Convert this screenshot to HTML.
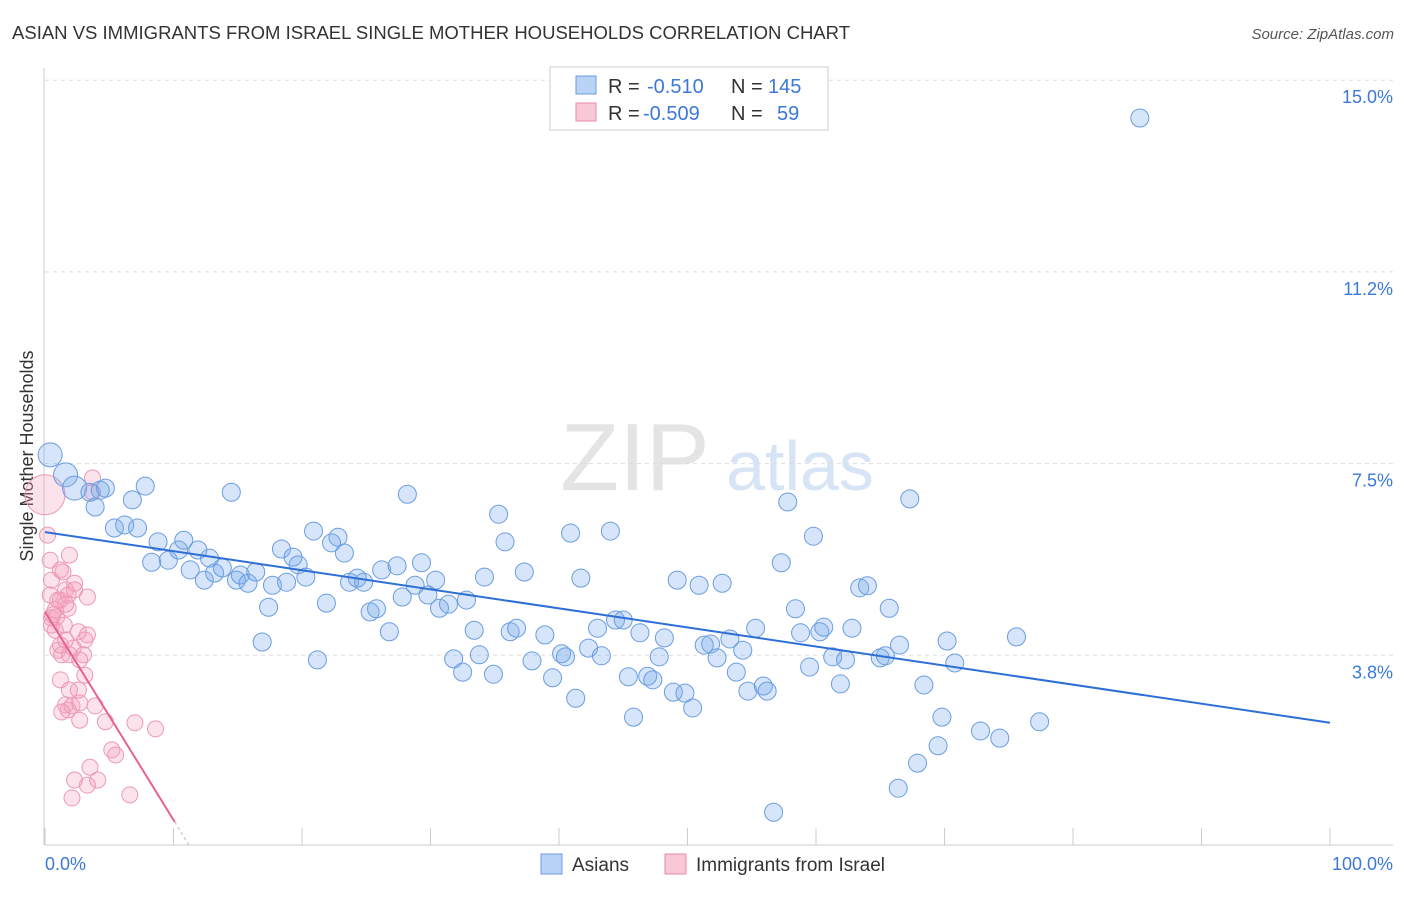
<!DOCTYPE html>
<html><head><meta charset="utf-8"><style>
body{margin:0;background:#fff;font-family:"Liberation Sans",sans-serif;}
svg text{font-family:"Liberation Sans",sans-serif;}
</style></head><body>
<svg id="chart" width="1406" height="892">
<text x="12" y="39" font-size="18" fill="#333" textLength="838" lengthAdjust="spacingAndGlyphs">ASIAN VS IMMIGRANTS FROM ISRAEL SINGLE MOTHER HOUSEHOLDS CORRELATION CHART</text>
<text x="1394" y="39" font-size="15" fill="#555" font-style="italic" text-anchor="end">Source: ZipAtlas.com</text>
<text x="33" y="456" font-size="18" fill="#333" transform="rotate(-90 33 456)" text-anchor="middle">Single Mother Households</text>
<text x="635" y="490" font-size="96" fill="#e4e4e4" font-family="Liberation Serif" text-anchor="middle">ZIP</text>
<text x="800" y="490" font-size="70" fill="#d6e4f5" text-anchor="middle">atlas</text>
<g id="grid"></g><g id="axes"></g><g id="pink"></g><g id="blue"></g><g id="lines"></g>
<g>
<rect x="550" y="67" width="278" height="63" fill="#fff" stroke="#ccc"/>
<rect x="576" y="76" width="20" height="18" fill="#b8d3f5" stroke="#6a9de0"/>
<rect x="576" y="103" width="20" height="18" fill="#f9c8d6" stroke="#e88aaa"/>
<text x="608" y="93" font-size="20" fill="#333">R =</text>
<text x="647" y="93" font-size="20" fill="#3c78d8">-0.510</text>
<text x="731" y="93" font-size="20" fill="#333">N =</text>
<text x="768" y="93" font-size="20" fill="#3c78d8">145</text>
<text x="608" y="120" font-size="20" fill="#333">R =</text>
<text x="643" y="120" font-size="20" fill="#3c78d8">-0.509</text>
<text x="731" y="120" font-size="20" fill="#333">N =</text>
<text x="777" y="120" font-size="20" fill="#3c78d8">59</text>
</g>
<g>
<rect x="541" y="854" width="21" height="20" fill="#b8d3f5" stroke="#6a9de0"/>
<text x="572" y="871" font-size="19" fill="#333">Asians</text>
<rect x="665" y="854" width="21" height="20" fill="#f9c8d6" stroke="#e88aaa"/>
<text x="696" y="871" font-size="19" fill="#333">Immigrants from Israel</text>
</g>
</svg>
<script>
const yTicks=[3.75,7.5,11.25,15];
const yTickLabels=["3.8%","7.5%","11.2%","15.0%"];
const xTickLabels=["0.0%","100.0%"];
const blueX=[0.4,1.6,2.3,3.5,4.7,3.9,5.4,6.2,7.2,7.8,6.8,8.8,8.3,9.6,10.4,10.8,11.3,11.9,12.4,12.8,13.2,13.8,14.5,14.9,15.2,15.8,16.4,16.9,17.4,17.7,18.4,18.8,19.3,19.7,20.3,20.9,21.2,21.9,22.3,22.8,23.3,23.7,24.3,24.8,25.3,25.8,26.2,26.8,27.4,27.8,28.2,28.8,29.3,29.8,30.4,30.7,31.4,31.8,32.5,32.8,33.4,33.8,34.2,34.9,35.3,35.8,36.2,36.7,37.3,37.9,38.9,39.5,40.2,40.5,40.9,41.3,41.7,42.3,43.0,43.3,44.0,44.4,45.0,45.4,45.8,46.3,46.9,47.3,47.8,48.2,48.9,49.2,49.8,50.4,50.9,51.3,51.8,52.3,52.7,53.3,53.8,54.3,54.7,55.3,55.9,56.2,56.7,57.3,57.8,58.4,58.8,59.5,59.8,60.3,60.6,61.3,61.9,62.3,62.8,63.4,64.0,65.0,65.4,65.7,66.5,67.3,67.9,68.4,69.5,69.8,70.2,70.8,72.8,74.3,75.6,77.4,66.4,85.2,4.3];
const blueY=[7.67,7.28,7.02,6.94,7.02,6.65,6.24,6.30,6.24,7.06,6.79,5.97,5.57,5.61,5.81,6.00,5.42,5.81,5.22,5.65,5.36,5.46,6.94,5.22,5.32,5.16,5.38,4.01,4.69,5.12,5.83,5.18,5.67,5.52,5.28,6.18,3.66,4.77,5.95,6.06,5.75,5.18,5.26,5.18,4.60,4.66,5.42,4.21,5.50,4.89,6.90,5.12,5.56,4.93,5.22,4.67,4.75,3.68,3.42,4.83,4.24,3.76,5.28,3.38,6.51,5.97,4.21,4.28,5.38,3.64,4.15,3.31,3.78,3.72,6.14,2.91,5.26,3.89,4.28,3.74,6.18,4.44,4.44,3.33,2.54,4.19,3.34,3.27,3.72,4.09,3.03,5.22,3.01,2.72,5.12,3.95,3.97,3.70,5.16,4.07,3.42,3.85,3.05,4.28,3.15,3.05,0.68,5.56,6.75,4.66,4.19,3.52,6.08,4.21,4.30,3.72,3.19,3.66,4.28,5.07,5.11,3.70,3.74,4.67,3.95,6.81,1.64,3.17,1.98,2.54,4.03,3.60,2.27,2.13,4.11,2.45,1.15,14.26,6.98];
const pinkX=[0,0.2,0.4,0.5,0.4,0.8,0.5,0.9,1.2,1.6,1.0,1.3,1.2,1.8,1.9,1.4,2.3,3.3,1.8,2.6,3.3,3.1,2.2,1.9,3.0,2.6,3.1,1.9,1.6,1.8,2.1,2.7,3.9,2.7,4.7,5.2,5.5,7.0,8.6,2.3,3.5,3.3,4.1,2.1,6.6,3.7,3.7,1.2,0.8,1.5,2.3,0.5,1.0,1.6,2.7,1.3,1.6,0.6,1.2];
const pinkY=[6.89,6.10,5.61,5.22,4.93,4.64,4.48,4.50,4.83,5.03,3.85,3.76,3.27,4.93,5.71,5.38,5.16,4.89,4.67,4.21,4.15,4.05,3.89,3.76,3.76,3.07,3.36,3.07,2.78,2.68,2.76,2.82,2.76,2.48,2.45,1.90,1.80,2.43,2.31,1.31,1.56,1.21,1.31,0.96,1.02,7.22,6.94,3.95,4.24,4.34,5.03,4.34,4.83,4.05,3.66,2.64,4.75,4.54,5.42];
const blueTrend=[6.16,2.43]; // y at x=0 and x=100
const pinkTrend=[4.60,-0.407]; // intercept, slope per %
const NS="http://www.w3.org/2000/svg";
const X=v=>45+v*12.85, Y=v=>847-v*51.12;
function mk(tag,attrs,parent){const e=document.createElementNS(NS,tag);for(const k in attrs)e.setAttribute(k,attrs[k]);document.getElementById(parent).appendChild(e);return e;}
yTicks.forEach((t,i)=>{
 const g=mk('line',{x1:45,x2:1393,y1:Y(t),y2:Y(t),stroke:'#ddd','stroke-dasharray':'4,4'},'grid');
 
 
 const l=mk('text',{x:1393,y:Y(t)+23,'font-size':18,fill:'#3c78d8','text-anchor':'end'},'grid');l.textContent=yTickLabels[i];
 
 
});
const ax=mk('line',{x1:45,x2:1393,y1:845,y2:845,stroke:'#ccc'},'axes');


const ay=mk('line',{x1:44,x2:44,y1:68,y2:845,stroke:'#ccc'},'axes');


for(let i=0;i<=10;i++){const t=mk('line',{x1:X(i*10),x2:X(i*10),y1:828,y2:845,stroke:'#ccc'},'axes');
 
 }
[[0,'start',45],[100,'end',1393]].forEach((d,i)=>{const t=mk('text',{x:d[2],y:870,'font-size':18,fill:'#3c78d8','text-anchor':d[1]},'axes');t.textContent=xTickLabels[i];
 
 });
pinkX.forEach((x,i)=>{const c=mk('circle',{cx:X(x),cy:Y(pinkY[i]),r:i==0?20:8,fill:'rgba(244,160,188,0.3)',stroke:'#ec98b6','stroke-width':1},'pink');
 
 });
blueX.forEach((x,i)=>{const c=mk('circle',{cx:X(x),cy:Y(blueY[i]),r:i<3?12:9,fill:'rgba(120,168,235,0.3)',stroke:'#6a9de0','stroke-width':1},'blue');
 
 });
const bl=mk('line',{x1:X(0),y1:Y(blueTrend[0]),x2:X(100),y2:Y(blueTrend[1]),stroke:'#2d6fd6','stroke-width':2},'lines');


const pEnd=10.1, pZero=-pinkTrend[0]/pinkTrend[1];
const pl=mk('line',{x1:X(0),y1:Y(pinkTrend[0]),x2:X(pEnd),y2:Y(pinkTrend[0]+pinkTrend[1]*pEnd),stroke:'#e8608e','stroke-width':2},'lines');


const pd=mk('line',{x1:X(pEnd),y1:Y(pinkTrend[0]+pinkTrend[1]*pEnd),x2:X(pZero),y2:Y(0),stroke:'#ccc','stroke-width':1.5,'stroke-dasharray':'3,3'},'lines');


</script>
</body></html>
